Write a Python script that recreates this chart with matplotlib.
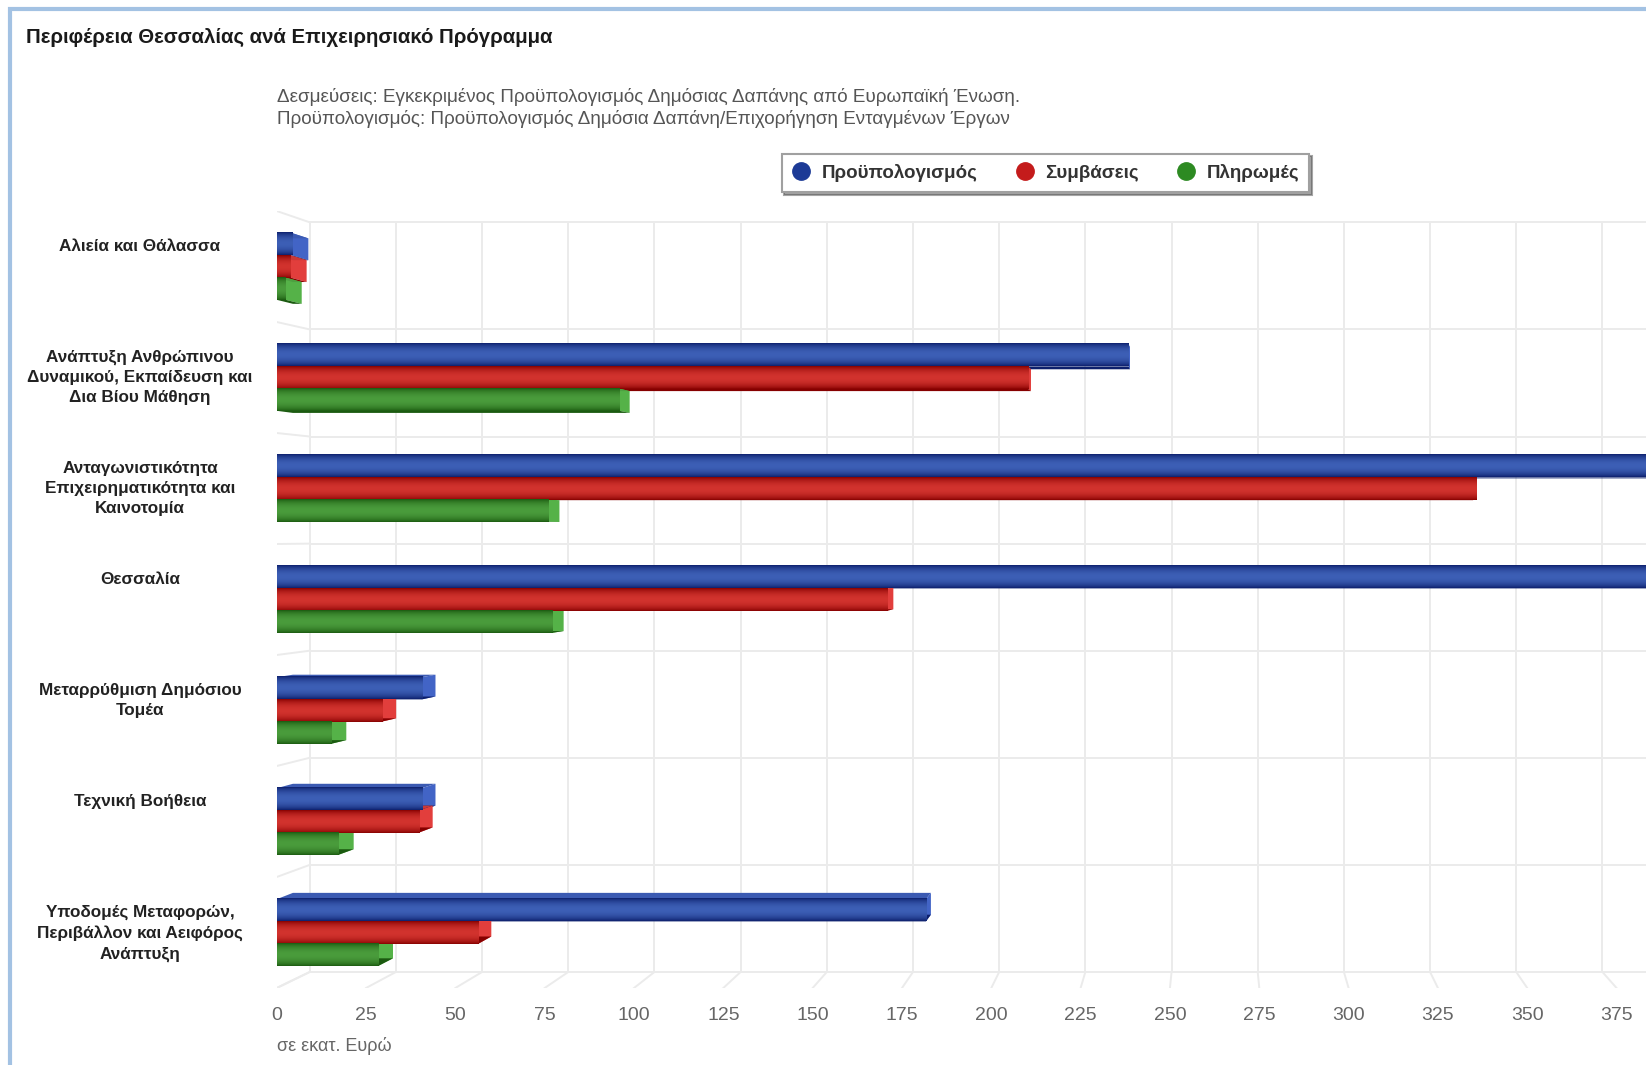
import numpy as np
import matplotlib
matplotlib.use('Agg')
import matplotlib.pyplot as plt
from matplotlib.patches import Polygon, Rectangle
from matplotlib.lines import Line2D
from matplotlib.transforms import IdentityTransform
from matplotlib.colors import to_rgb

# data (σε εκατ. Ευρώ)
categories = ['Αλιεία και Θάλασσα',
              'Ανάπτυξη Ανθρώπινου\nΔυναμικού, Εκπαίδευση και\nΔια Βίου Μάθηση',
              'Ανταγωνιστικότητα\nΕπιχειρηματικότητα και\nΚαινοτομία',
              'Θεσσαλία',
              'Μεταρρύθμιση Δημόσιου\nΤομέα',
              'Τεχνική Βοήθεια',
              'Υποδομές Μεταφορών,\nΠεριβάλλον και Αειφόρος\nΑνάπτυξη']
budget = [4.4, 238.4, 460.0, 430.0, 40.6, 40.6, 181.7]
contracts = [3.9, 210.2, 335.8, 171.0, 29.4, 39.8, 56.5]
payments = [2.5, 95.9, 75.9, 77.1, 15.2, 17.3, 28.5]
series_names = ['Προϋπολογισμός', 'Συμβάσεις', 'Πληρωμές']
x_ticks = [0, 25, 50, 75, 100, 125, 150, 175, 200, 225, 250, 275, 300, 325, 350, 375]

title = 'Περιφέρεια Θεσσαλίας ανά Επιχειρησιακό Πρόγραμμα'
subtitle1 = 'Δεσμεύσεις: Εγκεκριμένος Προϋπολογισμός Δημόσιας Δαπάνης από Ευρωπαϊκή Ένωση.'
subtitle2 = 'Προϋπολογισμός: Προϋπολογισμός Δημόσια Δαπάνη/Επιχορήγηση Ενταγμένων Έργων'
x_title = 'σε εκατ. Ευρώ'

# (legend colour, dark edge, light middle, side face)
colors = [('#1c3a96', '#0c1f6c', '#3d5fb6', '#4264c6'),
          ('#c41b1b', '#860000', '#d2332e', '#e23e3c'),
          ('#2d8a22', '#1b5a10', '#4a9c3c', '#55b248')]

W, H = 1646, 1065
plt.rcParams['font.family'] = ['Liberation Sans', 'DejaVu Sans']
fig = plt.figure(figsize=(W / 100, H / 100), dpi=100)

x0_px, px_per_unit = 276.7, 3.573
ax = fig.add_axes([x0_px / W, 1 - 988 / H, (W - x0_px) / W, 777 / H])
ax.set_xlim(0, (W - x0_px) / px_per_unit)
ax.set_ylim(len(categories) - 0.5, -0.5)
ax.autoscale(False)
for s in ax.spines.values():
    s.set_visible(False)
ax.set_xticks(x_ticks)
ax.set_xticklabels([str(t) for t in x_ticks])
ax.set_yticks([])
ax.tick_params(axis='x', length=0, pad=13.5, labelsize=14, labelcolor='#666666')

# simple perspective: points move towards a vanishing point with depth
vp = (262.6, 2.40)
grid_depth = 0.0352
bar_depth = 0.0173


def proj(xs, ys, z):
    p = ax.transData.transform(np.column_stack([xs, ys]))
    v = ax.transData.transform([vp])[0]
    return p + z * (v - p)


ident = IdentityTransform()
grid_kw = dict(color='#ebebeb', lw=1.4, transform=ident, zorder=1)
xmax = ax.get_xlim()[1] + 40
bounds = np.arange(len(categories) + 1) - 0.5
ybot, ytop = bounds[-1], bounds[0]

for t in x_ticks:
    b = proj([t, t], [ytop, ybot], grid_depth)
    ax.add_line(Line2D(b[:, 0], b[:, 1], **grid_kw))
    f = proj([t], [ybot], 0)[0]
    ax.add_line(Line2D([f[0], b[1, 0]], [f[1], b[1, 1]], **grid_kw))
for yb in bounds:
    b = proj([0, xmax], [yb, yb], grid_depth)
    ax.add_line(Line2D(b[:, 0], b[:, 1], **grid_kw))
    f = proj([0], [yb], 0)[0]
    ax.add_line(Line2D([f[0], b[0, 0]], [f[1], b[0, 1]], **grid_kw))

# bars
bar_h = 0.2
offsets = [-0.2, 0.0, 0.2]
n = 60
t = np.linspace(0, 1, n)
wgt = np.sin(np.pi * t) ** 0.7
for values, off, (lc, edge, mid, side) in zip([budget, contracts, payments], offsets, colors):
    e, m = np.array(to_rgb(edge)), np.array(to_rgb(mid))
    grad = (e[None, :] * (1 - wgt[:, None]) + m[None, :] * wgt[:, None])[:, None, :]
    top_c = tuple(np.clip(np.array(to_rgb(side)) * 0.9, 0, 1))
    for i, v in enumerate(values):
        y0, y1 = i + off - bar_h / 2, i + off + bar_h / 2
        fr = proj([0, v, v, 0], [y0, y0, y1, y1], 0)
        bk = proj([0, v, v, 0], [y0, y0, y1, y1], bar_depth)
        # right end face
        ax.add_patch(Polygon([fr[1], bk[1], bk[2], fr[2]], closed=True, fc=side,
                             ec='none', transform=ident, zorder=2))
        # top face
        ax.add_patch(Polygon([fr[0], fr[1], bk[1], bk[0]], closed=True, fc=top_c,
                             ec='none', transform=ident, zorder=2))
        # bottom face
        ax.add_patch(Polygon([fr[3], fr[2], bk[2], bk[3]], closed=True, fc=edge,
                             ec='none', transform=ident, zorder=2))
        ax.imshow(grad, extent=(0, v, y1, y0), origin='upper', aspect='auto',
                  interpolation='bilinear', zorder=3)

ax.set_xlim(0, (W - x0_px) / px_per_unit)
ax.set_ylim(len(categories) - 0.5, -0.5)

# category labels
for i, cat in enumerate(categories):
    ax.annotate(cat, xy=(140 / W, i), xycoords=('figure fraction', 'data'),
                xytext=(0, 20), textcoords='offset points', ha='center', va='top',
                ma='center', fontsize=12.3, fontweight='bold', color='#222222',
                linespacing=1.42, annotation_clip=False)

fig.text(x0_px / W, 1 - 1046 / H, x_title, fontsize=13, color='#666666',
         ha='left', va='center')

# titles
fig.text(26 / W, 1 - 37 / H, title, fontsize=14.7, fontweight='bold', color='#1a1a1a',
         ha='left', va='center')
fig.text(277 / W, 1 - 96.5 / H, subtitle1, fontsize=13.6, color='#555555',
         ha='left', va='center')
fig.text(277 / W, 1 - 119.5 / H, subtitle2, fontsize=13.6, color='#555555',
         ha='left', va='center')

# legend
handles = [Line2D([], [], ls='', marker='o', markersize=12.5, color=c[0]) for c in colors]
leg = fig.legend(handles, series_names, loc='center',
                 bbox_to_anchor=(1045.5 / W, 1 - 173 / H), ncol=3, frameon=True,
                 fancybox=False, shadow=True, edgecolor='#a0a0a0',
                 prop={'weight': 'bold', 'size': 13.5}, handlelength=1.0,
                 handletextpad=0.6, columnspacing=2.0, borderpad=0.55)
leg.get_frame().set_linewidth(1.5)
for txt in leg.get_texts():
    txt.set_color('#333333')

# panel border
fig.add_artist(Rectangle((9.5 / W, -0.1), 1.2, 1.1 - 9 / H, transform=fig.transFigure,
                         fill=False, edgecolor='#a3c2e3', lw=3))

fig.savefig('out.png', dpi=100)
